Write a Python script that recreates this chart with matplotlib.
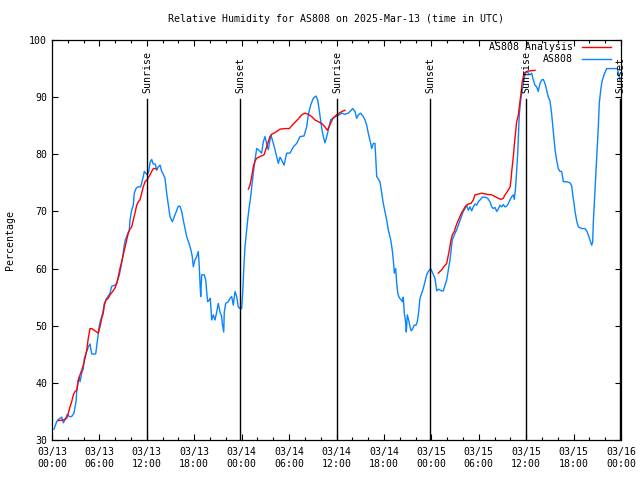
import numpy as np
import matplotlib
matplotlib.use("Agg")
import matplotlib.pyplot as plt
from matplotlib.ticker import MultipleLocator, FixedLocator

# hours since 2025-03-13 00:00 UTC
obs_hours = [0.25, 0.59, 0.80, 1.23, 1.43, 1.64, 1.94, 2.19, 2.49, 2.78, 3.04, 3.13, 3.33, 3.45, 3.54, 3.76, 3.96, 4.09, 4.30, 4.59,
             4.81, 5.02, 5.31, 5.53, 5.73, 5.99, 6.16, 6.42, 6.62, 6.92, 7.12, 7.34, 7.55, 7.97, 8.19, 8.52, 8.69, 8.95, 9.11, 9.27,
             9.53, 9.78, 9.87, 10.08, 10.29, 10.41, 10.63, 10.84, 11.22, 11.39, 11.55, 11.68, 11.86, 12.06, 12.24, 12.40, 12.61, 12.82, 13.07, 13.25,
             13.45, 13.67, 13.88, 14.08, 14.30, 14.51, 14.72, 14.93, 15.22, 15.48, 15.78, 15.98, 16.20, 16.41, 16.61, 16.83, 17.04, 17.34, 17.59, 17.75,
             17.88, 18.09, 18.31, 18.51, 18.64, 18.73, 18.82, 18.94, 19.27, 19.45, 19.57, 19.70, 19.90, 20.03, 20.12, 20.21, 20.41, 20.63, 20.84, 21.04,
             21.26, 21.47, 21.55, 21.73, 21.80, 21.98, 22.31, 22.52, 22.74, 22.94, 23.16, 23.37, 23.57, 23.79, 24.00, 24.13, 24.26, 24.42, 24.59, 24.76,
             24.93, 25.09, 25.27, 25.47, 25.69, 25.90, 26.10, 26.32, 26.53, 26.74, 26.95, 27.21, 27.37, 27.58, 27.71, 27.88, 28.13, 28.43, 28.64, 28.85,
             29.06, 29.27, 29.36, 29.70, 30.12, 30.53, 30.96, 31.38, 31.89, 32.23, 32.43, 32.73, 33.06, 33.41, 33.62, 33.82, 34.13, 34.33, 34.54, 34.76,
             34.96, 35.27, 35.59, 36.02, 36.35, 36.66, 37.07, 37.49, 37.71, 38.05, 38.34, 38.55, 38.76, 39.06, 39.39, 39.61, 39.82, 40.02, 40.33, 40.45,
             40.66, 40.87, 41.09, 41.50, 41.72, 41.92, 42.35, 42.55, 42.86, 43.06, 43.19, 43.32, 43.49, 43.62, 43.75, 43.91, 44.12, 44.33, 44.45, 44.58,
             44.76, 44.83, 44.96, 45.13, 45.30, 45.46, 45.64, 45.84, 46.06, 46.22, 46.40, 46.56, 46.78, 46.98, 47.20, 47.41, 47.61, 47.92, 48.17, 48.46,
             48.68, 48.88, 49.31, 49.51, 49.73, 49.94, 50.15, 50.36, 50.65, 50.91, 51.21, 51.50, 51.75, 52.04, 52.26, 52.47, 52.68, 52.89, 53.11, 53.31,
             53.52, 53.74, 53.94, 54.16, 54.45, 54.79, 55.13, 55.42, 55.64, 55.84, 56.06, 56.27, 56.47, 56.69, 56.90, 57.11, 57.32, 57.54, 57.74, 57.95,
             58.17, 58.37, 58.50, 58.67, 58.80, 58.93, 59.05, 59.13, 59.31, 59.47, 59.64, 59.85, 60.07, 60.27, 60.48, 60.70, 60.90, 61.12, 61.33, 61.53,
             61.75, 61.96, 62.17, 62.38, 62.60, 62.80, 63.01, 63.23, 63.43, 63.65, 63.86, 64.06, 64.28, 64.49, 64.70, 65.13, 65.55, 65.76, 65.93, 66.05,
             66.18, 66.40, 66.60, 67.03, 67.44, 67.66, 67.86, 68.08, 68.29, 68.42, 68.49, 68.62, 68.75, 68.92, 69.13, 69.25, 69.43, 69.59, 69.85, 70.19,
             70.61, 71.24, 71.53, 71.71, 71.87]
obs_rh = [31.9, 33.2, 33.6, 34.0, 33.0, 33.5, 34.5, 34.1, 34.1, 34.7, 36.7, 38.5, 40.5, 41.0, 40.2, 41.7, 42.5, 44.3, 45.1, 46.3,
          46.8, 45.1, 45.0, 45.1, 47.2, 50.1, 51.0, 52.2, 53.9, 54.8, 55.2, 55.7, 56.9, 57.1, 57.4, 58.9, 60.0, 62.1, 63.8, 65.0,
          65.9, 66.7, 68.5, 70.2, 71.1, 73.2, 74.0, 74.3, 74.3, 75.2, 76.1, 77.0, 76.7, 76.4, 77.0, 78.5, 79.1, 78.3, 78.3, 77.2,
          77.8, 78.1, 77.0, 76.5, 75.8, 73.2, 71.1, 69.1, 68.2, 69.1, 70.2, 70.9, 70.9, 70.0, 68.5, 67.0, 65.6, 64.4, 63.2, 62.1,
          60.3, 61.5, 62.1, 63.0, 60.3, 57.4, 55.1, 58.9, 58.9, 58.0, 56.0, 54.2, 54.5, 54.8, 52.8, 51.0, 51.9, 51.0, 52.4, 53.9,
          52.4, 51.6, 50.4, 48.9, 52.4, 53.9, 54.2, 54.8, 55.1, 53.6, 56.0, 55.1, 53.3, 53.0, 53.0, 55.7, 59.7, 63.8, 66.2, 68.5,
          70.5, 72.0, 74.3, 76.7, 79.0, 81.0, 80.8, 80.5, 80.2, 82.2, 83.1, 81.6, 80.8, 82.5, 83.4, 82.5, 81.3, 79.6, 78.4, 79.5,
          79.0, 78.4, 78.1, 80.2, 80.2, 81.3, 81.9, 83.1, 83.2, 84.8, 86.9, 88.6, 89.8, 90.2, 89.5, 87.7, 84.5, 83.1, 82.0, 83.1,
          84.2, 86.1, 86.3, 86.7, 86.9, 87.2, 87.0, 87.2, 87.5, 88.0, 87.5, 86.3, 86.9, 87.2, 86.6, 86.0, 85.1, 83.7, 81.9, 81.0,
          81.9, 81.9, 76.1, 75.2, 73.2, 71.4, 68.5, 66.8, 65.0, 63.2, 61.5, 59.2, 60.0, 57.4, 55.7, 55.0, 54.6, 54.2, 55.0, 52.2,
          50.4, 48.9, 51.9, 51.0, 49.8, 49.1, 49.5, 50.1, 50.1, 50.7, 52.4, 54.8, 55.7, 56.5, 57.7, 58.9, 59.5, 60.0, 59.2, 58.3,
          56.1, 56.4, 56.1, 56.1, 57.1, 58.0, 59.8, 61.5, 65.0, 65.9, 66.8, 67.9, 68.8, 70.0, 70.5, 71.1, 70.2, 70.8, 70.1, 70.8,
          71.3, 71.1, 71.7, 72.0, 72.5, 72.5, 72.3, 71.7, 70.8, 70.5, 70.7, 70.0, 70.4, 71.1, 70.8, 71.2, 70.8, 70.9, 71.4, 72.0,
          72.6, 72.9, 72.1, 74.3, 77.2, 80.2, 84.2, 87.0, 89.5, 91.0, 92.5, 94.0, 94.5, 94.2, 93.9, 94.2, 93.0, 92.1, 91.8, 91.0,
          92.4, 93.0, 93.1, 92.4, 91.2, 90.0, 89.4, 87.0, 84.0, 80.8, 79.0, 77.5, 77.0, 77.0, 75.2, 75.2, 75.0, 74.5, 72.5, 71.5,
          70.0, 68.3, 67.3, 67.0, 67.0, 66.6, 65.9, 65.0, 64.1, 64.7, 67.9, 71.4, 74.9, 79.6, 84.8, 88.9, 91.2, 92.7, 93.9, 95.0,
          95.0, 95.0, 95.0, 93.9, 93.0]

ana_hours = [0.80, 1.43, 1.86, 2.06, 2.28, 2.49, 2.70, 2.91, 3.13, 3.33, 3.54, 3.76, 3.96, 4.18, 4.39, 4.59, 4.81, 5.02, 5.44, 5.86,
             6.07, 6.29, 6.49, 6.62, 6.83, 7.12, 7.34, 7.68, 7.97, 8.19, 8.39, 8.60, 8.82, 9.02, 9.24, 9.45, 9.65, 9.87, 10.08, 10.29,
             10.50, 10.72, 10.92, 11.13, 11.35, 11.55, 11.77, 12.06, 12.40, 12.61, 12.82, 13.16, 13.20,
             24.84, 25.05, 25.27, 25.47, 25.69, 25.90, 26.32, 26.83, 27.16, 27.37, 27.58, 27.80, 28.22, 28.85, 29.48, 30.03, 30.53, 31.17, 31.60, 32.01,
             32.43, 32.86, 33.28, 33.70, 34.13, 34.54, 34.84, 35.18, 35.59, 36.02, 36.44, 36.86, 37.07, 37.10,
             48.88, 49.31, 49.64, 49.94, 50.15, 50.27, 50.49, 50.65, 50.91, 51.08, 51.33, 51.62, 51.84, 52.04, 52.26, 52.47, 52.68, 53.02, 53.31, 53.52,
             53.86, 54.37, 55.00, 55.64, 56.06, 56.47, 56.81, 57.11, 57.32, 57.54, 57.74, 57.95, 58.08, 58.17, 58.37, 58.58, 58.80, 59.00, 59.13, 59.31,
             59.47, 59.72, 60.07, 60.48, 61.12]
ana_rh = [33.4, 33.5, 33.8, 34.7, 35.8, 36.7, 37.9, 38.5, 38.7, 40.5, 41.4, 42.2, 43.1, 44.3, 45.7, 47.8, 49.5, 49.5, 49.1, 48.7,
          49.8, 51.3, 52.2, 53.6, 54.5, 54.8, 55.4, 56.0, 56.6, 57.4, 58.6, 60.0, 61.2, 62.4, 63.8, 65.0, 66.2, 66.9, 67.3, 68.5,
          69.7, 71.1, 71.7, 72.0, 73.2, 74.3, 75.2, 75.6, 76.4, 77.0, 77.5, 77.5, np.nan,
          73.9, 74.6, 76.1, 77.8, 78.8, 79.3, 79.6, 79.9, 81.3, 82.2, 83.1, 83.5, 83.8, 84.4, 84.5, 84.5, 85.3, 86.2, 86.9, 87.2,
          87.0, 86.6, 86.0, 85.7, 85.4, 84.8, 84.2, 85.2, 86.4, 86.9, 87.3, 87.6, 87.7, np.nan,
          59.2, 59.8, 60.4, 60.9, 62.4, 63.2, 65.0, 65.9, 66.5, 67.3, 68.2, 69.1, 69.8, 70.2, 70.8, 71.1, 71.3, 71.4, 72.0, 72.9,
          73.0, 73.2, 73.0, 72.9, 72.6, 72.3, 72.1, 72.3, 72.9, 73.3, 73.8, 74.2, 75.5, 77.0, 79.5, 82.8, 85.7, 86.8, 88.3, 90.2,
          92.4, 94.2, 94.5, 94.6, 94.7]

sun_hours = [12.02, 23.79, 36.06, 47.83, 59.98, 71.87]
sun_labels = ["Sunrise", "Sunset", "Sunrise", "Sunset", "Sunrise", "Sunset"]

tick_hours = list(range(0, 73, 6))
tick_labels = ["03/13\n00:00", "03/13\n06:00", "03/13\n12:00", "03/13\n18:00",
               "03/14\n00:00", "03/14\n06:00", "03/14\n12:00", "03/14\n18:00",
               "03/15\n00:00", "03/15\n06:00", "03/15\n12:00", "03/15\n18:00",
               "03/16\n00:00"]

FS = 7.1
plt.rcParams['font.family'] = ['DejaVu Sans Mono']

fig = plt.figure(figsize=(6.4, 4.8), dpi=100)
ax = fig.add_axes([52/640, 40/480, 569/640, 400/480])

ax.plot(ana_hours, ana_rh, color='#ff0000', lw=1.0, label='AS808 Analysis', zorder=3)
ax.plot(obs_hours, obs_rh, color='#0a84ff', lw=1.0, label='AS808', zorder=2)

for h, lab in zip(sun_hours, sun_labels):
    ax.plot([h, h], [30, 89.7], color='black', lw=1.0, zorder=4)
    ax.text(h, 90.8, lab, rotation=90, ha='center', va='bottom', fontsize=FS, zorder=5)

ax.set_xlim(0, 72)
ax.set_ylim(30, 100)
ax.set_xticks(tick_hours)
ax.set_xticklabels(tick_labels)
ax.xaxis.set_minor_locator(MultipleLocator(2))
ax.yaxis.set_major_locator(MultipleLocator(10))
ax.tick_params(which='both', direction='in', top=True, right=True, labelsize=FS, width=0.8)
ax.tick_params(which='major', length=4.5)
ax.tick_params(which='minor', length=2.5)
ax.tick_params(axis='x', pad=5)
for lbl in ax.get_xticklabels():
    lbl.set_linespacing(1.3)
for s in ax.spines.values():
    s.set_linewidth(0.9)

ax.set_ylabel('Percentage', fontsize=FS, labelpad=10)
ax.set_title('Relative Humidity for AS808 on 2025-Mar-13 (time in UTC)', fontsize=FS, pad=13)

leg = ax.legend(loc='upper right', bbox_to_anchor=(0.982, 0.995), frameon=False, fontsize=FS,
                markerfirst=False, handlelength=2.9, handletextpad=0.9, labelspacing=0.25, borderpad=0,
                borderaxespad=0)

fig.savefig('out.png', dpi=100)
